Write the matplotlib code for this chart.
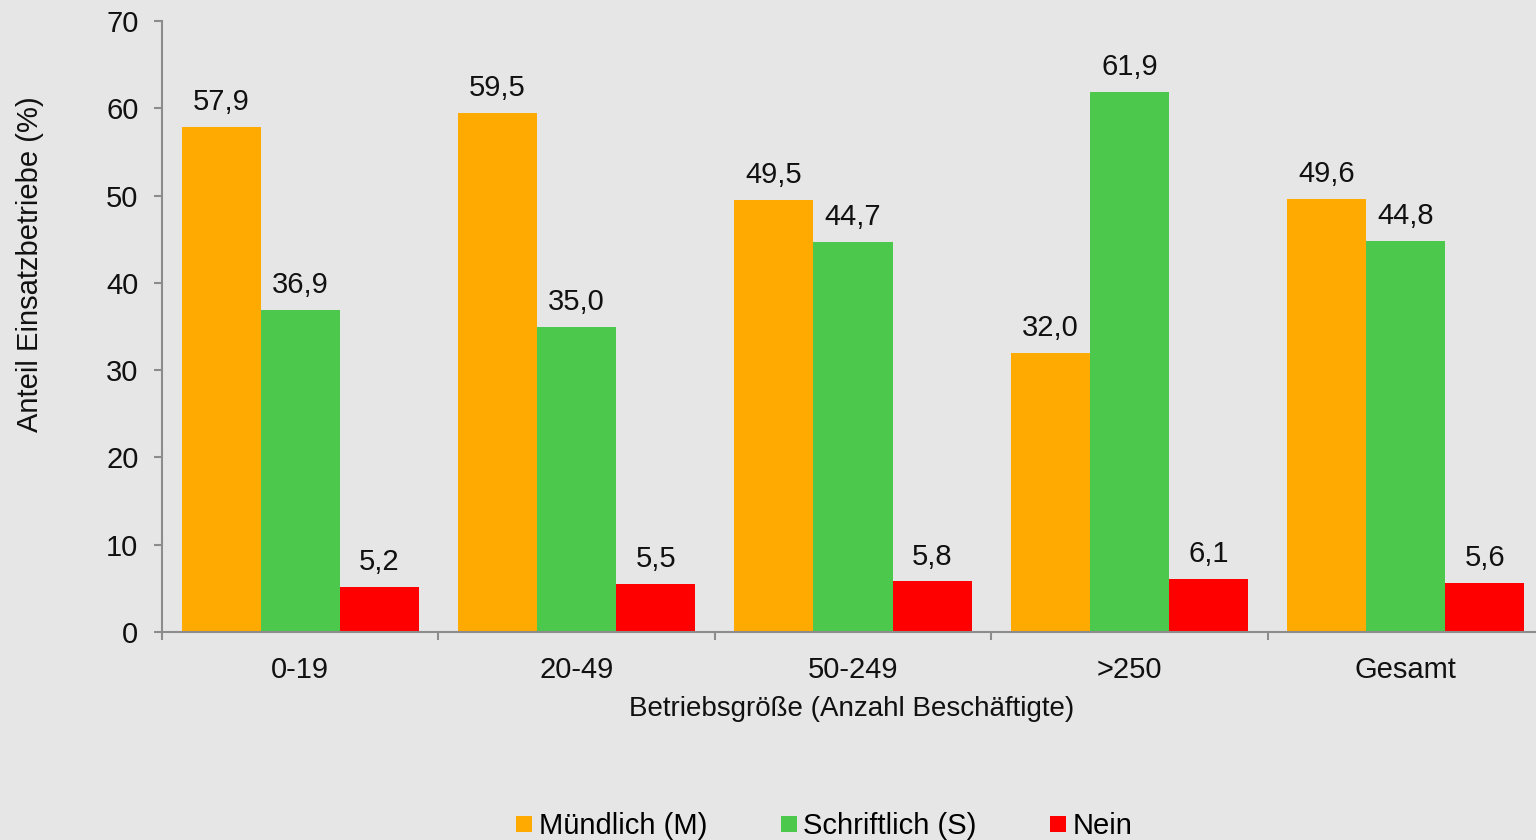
import matplotlib.pyplot as plt
from matplotlib.lines import Line2D
import numpy as np

# data
groups = ["0-19", "20-49", "50-249", ">250", "Gesamt"]
muendlich = [57.9, 59.5, 49.5, 32.0, 49.6]
schriftlich = [36.9, 35.0, 44.7, 61.9, 44.8]
nein = [5.2, 5.5, 5.8, 6.1, 5.6]
series_names = ["Mündlich (M)", "Schriftlich (S)", "Nein"]
colors = ["#FFAA00", "#4CC94C", "#FF0000"]

plt.rcParams['font.family'] = ['Liberation Sans', 'DejaVu Sans']
bg = "#E6E6E6"
axis_col = "#8C8C8C"
fs = 21

fig = plt.figure(figsize=(15.36, 8.4), dpi=100, facecolor=bg)
ax = fig.add_axes([162 / 1536, 1 - 632 / 840, (1544 - 162) / 1536, (632 - 21) / 840])
ax.set_facecolor(bg)

x = np.arange(len(groups))
w = 0.286
for i, (vals, col) in enumerate(zip([muendlich, schriftlich, nein], colors)):
    xs = x + (i - 1) * w
    ax.bar(xs, vals, width=w, color=col, linewidth=0)
    for xi, v in zip(xs, vals):
        ax.annotate(f"{v:.1f}".replace(".", ","), (xi, v), xytext=(0, 12),
                    textcoords="offset points", ha="center", va="baseline",
                    fontsize=fs, color="#111111")

ax.set_xlim(-0.5, len(groups) - 0.5)
ax.set_ylim(0, 70)
ax.set_yticks(range(0, 71, 10))

for s in ["top", "right"]:
    ax.spines[s].set_visible(False)
for s in ["left", "bottom"]:
    ax.spines[s].set_color(axis_col)
    ax.spines[s].set_linewidth(1.5)

ax.set_xticks(x)
ax.set_xticklabels(groups)
ax.set_xticks(np.arange(-0.5, len(groups), 1), minor=True)
ax.tick_params(axis="x", which="major", length=0, pad=17, labelsize=fs, labelcolor="#111111")
ax.tick_params(axis="x", which="minor", length=6, width=1.5, color=axis_col, direction="out")
ax.tick_params(axis="y", length=6, width=1.5, color=axis_col, direction="out", pad=11,
               labelsize=fs, labelcolor="#111111")

fig.text(30 / 1536, 1 - 264 / 840, "Anteil Einsatzbetriebe (%)", rotation=90,
         ha="center", va="center", fontsize=fs, color="#111111")
fig.text(852 / 1536, 1 - 709 / 840, "Betriebsgröße (Anzahl Beschäftigte)",
         ha="center", va="center", fontsize=20, color="#111111")

handles = [Line2D([], [], marker="s", linestyle="none", markersize=11.5,
                  markerfacecolor=c, markeredgewidth=0) for c in colors]
fig.legend(handles, series_names, ncol=3, loc="center",
           bbox_to_anchor=(824 / 1536, 1 - 826 / 840), frameon=False,
           fontsize=fs, handlelength=0.6, handletextpad=0.2, columnspacing=2.5,
           borderaxespad=0, borderpad=0)

fig.savefig("out.png", dpi=100, facecolor=bg)
